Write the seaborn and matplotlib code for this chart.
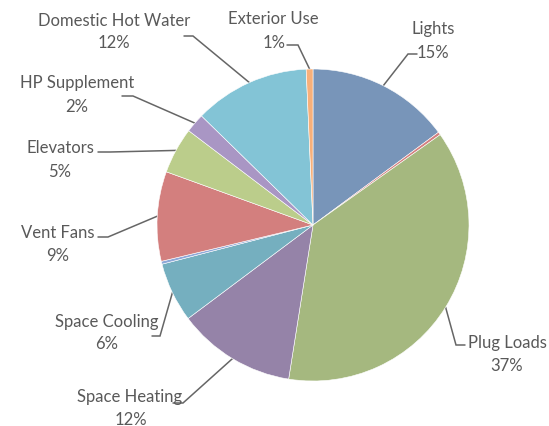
import numpy as np
import matplotlib
matplotlib.use("Agg")
import matplotlib.pyplot as plt
import seaborn as sns

sns.set_theme(style="white")
plt.rcParams['font.family'] = ['Lato', 'DejaVu Sans']

# Data (clockwise from 12 o'clock)
categories = ["Lights", "", "Plug Loads", "Space Heating", "Space Cooling", "",
              "Vent Fans", "Elevators", "HP Supplement", "Domestic Hot Water", "Exterior Use"]
values = [14.9, 0.3, 37.4, 12.3, 6.2, 0.3, 9.3, 4.8, 2.0, 12.0, 0.7]
colors = ["#7895B9", "#D47F80", "#A5B87F", "#9583A8", "#75AFBF", "#8EA8D8",
          "#D37F7E", "#BBCD8B", "#A996C4", "#83C4D6", "#F8B07A"]

W, H = 549, 427
fig = plt.figure(figsize=(W / 100, H / 100), dpi=100)
ax = fig.add_axes([0, 0, 1, 1])

cx, cy, R = 313, H - 226, 156
wedges, _ = ax.pie(values, colors=colors, startangle=90, counterclock=False,
                   center=(cx, cy), radius=R, frame=True,
                   wedgeprops=dict(edgecolor='white', linewidth=0.4))
ax.set_xlim(0, W)
ax.set_ylim(0, H)
ax.set_aspect('equal')
ax.axis('off')

# label layout in pixel coords (top-left origin): name center, pct center, line start, elbow
layout = {
    "Lights": ((433, 29), (433, 53), (417, 55), (408, 55)),
    "Plug Loads": ((507, 343), (507, 366), (465, 346), (456, 346)),
    "Space Heating": ((130, 397), (131, 420), (173, 404), (183, 404)),
    "Space Cooling": ((107, 322), (107, 344), (152, 337), (160, 337)),
    "Vent Fans": ((58, 233), (58, 256), (98, 238), (108, 238)),
    "Elevators": ((60, 148), (60, 172), (98, 153), (110, 153)),
    "HP Supplement": ((77, 83), (77, 107), (122, 97), (133, 97)),
    "Domestic Hot Water": ((114, 21), (114, 43), (184, 37), (193, 37)),
    "Exterior Use": ((273, 19), (274, 43), (287, 46), (298, 46)),
}

total = sum(values)
tc = "#595959"
for w, name, v in zip(wedges, categories, values):
    if not name:
        continue
    th = np.deg2rad((w.theta1 + w.theta2) / 2)
    ax_pt = (cx + R * np.cos(th), cy + R * np.sin(th))
    (nx, ny), (px, py), (sx, sy), (ex, ey) = layout[name]
    ax.plot([sx, ex, ax_pt[0]], [H - sy, H - ey, ax_pt[1]], color="#666666", lw=1.1,
            solid_joinstyle='miter', zorder=0.5)
    ax.text(nx, H - ny, name, ha='center', va='center', fontsize=12, color=tc, zorder=3)
    ax.text(px, H - py, f"{round(v / total * 100):.0f}%", ha='center', va='center',
            fontsize=12, color=tc, zorder=3)

fig.savefig("out.png", dpi=100, facecolor='white')
